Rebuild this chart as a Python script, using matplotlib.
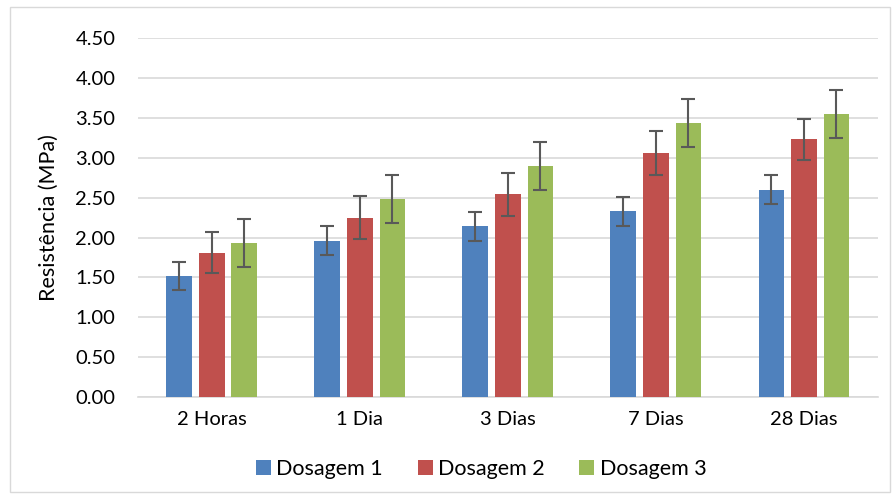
import numpy as np
import matplotlib.pyplot as plt
from matplotlib.patches import Rectangle

categories = ["2 Horas", "1 Dia", "3 Dias", "7 Dias", "28 Dias"]
series = ["Dosagem 1", "Dosagem 2", "Dosagem 3"]

dosagem1 = [1.52, 1.96, 2.14, 2.33, 2.60]
dosagem2 = [1.81, 2.25, 2.54, 3.06, 3.23]
dosagem3 = [1.93, 2.48, 2.90, 3.44, 3.55]

err1 = [0.18, 0.18, 0.18, 0.18, 0.18]
err2 = [0.26, 0.27, 0.27, 0.27, 0.26]
err3 = [0.30, 0.30, 0.30, 0.30, 0.30]

colors = ["#4f81bd", "#c0504d", "#9bbb59"]

plt.rcParams['font.family'] = ['Lato', 'DejaVu Sans']

fig = plt.figure(figsize=(8.94, 4.94), dpi=100)
ax = fig.add_axes([0.154, 0.196, 0.828, 0.727])

x = np.arange(len(categories))
width = 0.173
offset = 0.22
values = [dosagem1, dosagem2, dosagem3]
errors = [err1, err2, err3]
for i in range(3):
    ax.bar(x + (i - 1) * offset, values[i], width, color=colors[i], label=series[i], zorder=3)
    ax.errorbar(x + (i - 1) * offset, values[i], yerr=errors[i], fmt='none',
                ecolor="#595959", elinewidth=1.5, capsize=5, capthick=1.5, zorder=4)

ax.set_xlim(-0.5, len(categories) - 0.5)
ax.set_ylim(0, 4.5)
ax.set_yticks(np.arange(0, 4.51, 0.5))
ax.set_yticklabels(["%.2f" % v for v in np.arange(0, 4.51, 0.5)], fontsize=14.5)
ax.set_xticks(x)
ax.set_xticklabels(categories, fontsize=14.5)
ax.tick_params(axis='x', length=0, pad=10)
ax.tick_params(axis='y', length=0, pad=16)
ax.yaxis.grid(True, color="#d9d9d9", linewidth=1.2, zorder=0)
ax.set_axisbelow(True)
for s in ["top", "right", "left"]:
    ax.spines[s].set_visible(False)
ax.spines["bottom"].set_color("#d9d9d9")
ax.spines["bottom"].set_linewidth(1.2)
ax.set_ylabel("Resistência (MPa)", fontsize=15.5, labelpad=12)

ax.legend(loc="center", bbox_to_anchor=(0.464, -0.2), ncol=3, frameon=False,
          fontsize=15.5, handlelength=0.7, handleheight=0.7, handletextpad=0.25,
          columnspacing=1.6)

fig.patches.append(Rectangle((0.011, 0.005), 0.985, 0.98, transform=fig.transFigure,
                             fill=False, edgecolor="#d9d9d9", linewidth=1))

fig.savefig("out.png", dpi=100)
